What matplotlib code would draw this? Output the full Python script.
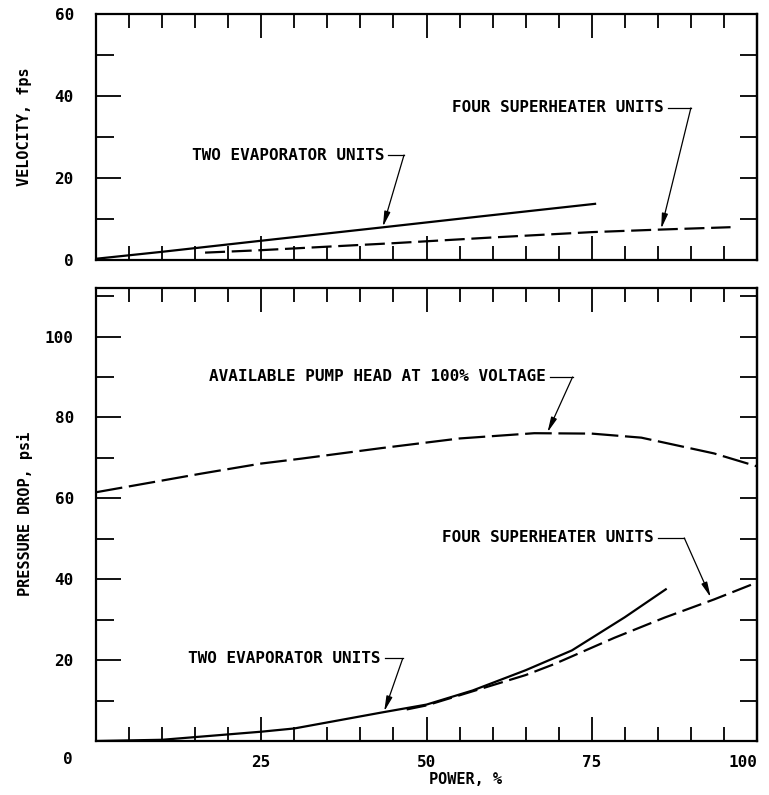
import numpy as np
import matplotlib
matplotlib.use("Agg")
from matplotlib import pyplot as plt
from matplotlib.ticker import MultipleLocator

# Data (power in %)
vel_evap_x = [0, 10, 25, 43, 58, 75.5]
vel_evap_y = [0.3, 2.0, 4.7, 7.9, 10.6, 13.7]
vel_super_x = [16.5, 25, 45, 60, 75, 85, 96]
vel_super_y = [1.8, 2.4, 4.1, 5.5, 6.8, 7.4, 8.0]

pump_x = [0, 15.9, 25, 31, 43.1, 55, 66.3, 75, 82.5, 93.5, 100]
pump_y = [61.5, 66.1, 68.6, 69.8, 72.4, 74.8, 76.1, 76.0, 75.0, 71.1, 67.9]
dp_evap_x = [0, 10, 25, 30, 43.4, 50, 57, 65, 72, 80, 86.2]
dp_evap_y = [0, 0.3, 2.3, 3.1, 7.1, 9.0, 12.5, 17.5, 22.4, 30.6, 37.5]
dp_super_x = [47, 50, 58, 65, 69.3, 78.4, 86, 93.5, 100]
dp_super_y = [7.8, 8.8, 12.8, 16.3, 19.0, 25.5, 30.5, 35.0, 39.2]

xticks = [25, 50, 75, 100]

plt.rcParams["font.family"] = "DejaVu Sans Mono"
plt.rcParams["font.weight"] = "bold"

fig = plt.figure(figsize=(7.69, 7.95), dpi=100)
ax1 = fig.add_axes([96 / 769, 1 - 260 / 795, 661 / 769, 246 / 795])
ax2 = fig.add_axes([96 / 769, 1 - 741 / 795, 661 / 769, 453 / 795])


def style_axes(ax, ymax, ymajor):
    ax.set_xlim(0, 100)
    ax.set_ylim(0, ymax)
    for s in ax.spines.values():
        s.set_linewidth(1.6)
    ax.xaxis.set_major_locator(MultipleLocator(25))
    ax.xaxis.set_minor_locator(MultipleLocator(5))
    ax.yaxis.set_major_locator(MultipleLocator(ymajor))
    ax.yaxis.set_minor_locator(MultipleLocator(10))
    ax.tick_params(which="both", direction="in", top=True, bottom=True,
                   left=True, right=False, width=1.3, colors="black",
                   labelsize=11.5)
    ax.tick_params(which="major", length=17)
    ax.tick_params(which="minor", length=10)
    ax.tick_params(axis="y", which="major", length=18)
    ax.tick_params(axis="y", which="minor", length=13)
    ax.tick_params(axis="y", pad=16)
    # right side ticks, all the same length
    sec = ax.secondary_yaxis("right")
    sec.yaxis.set_major_locator(MultipleLocator(10))
    sec.tick_params(direction="in", length=12, width=1.3, labelright=False)
    sec.spines["right"].set_linewidth(1.6)


style_axes(ax1, 60, 20)
style_axes(ax2, 112, 20)
ax1.tick_params(labelbottom=False)
ax2.set_xticks(xticks)
ax2.set_xticklabels([str(t) for t in xticks])
ax2.get_xticklabels()[-1].set_horizontalalignment("right")
ax2.tick_params(axis="x", pad=10)
ax2.set_yticks([20, 40, 60, 80, 100])
ax2.text(-0.042, -0.04, "0", transform=ax2.transAxes, ha="center", va="center",
         fontsize=11.5, fontweight="bold")

lw = 1.6
ax1.plot(vel_evap_x, vel_evap_y, color="black", lw=lw)
ax1.plot(vel_super_x, vel_super_y, color="black", lw=lw, dashes=(9, 3))
ax2.plot(pump_x, pump_y, color="black", lw=lw, dashes=(12, 3))
ax2.plot(dp_evap_x, dp_evap_y, color="black", lw=lw)
ax2.plot(dp_super_x, dp_super_y, color="black", lw=lw, dashes=(9, 3))


def label(ax, text, tx, ty, cx, tip):
    ax.text(tx, ty, text, ha="right", va="center", fontsize=11.5,
            fontweight="bold")
    ax.plot([tx + 0.6, cx], [ty, ty], color="black", lw=0.9)
    ax.annotate("", xy=tip, xytext=(cx, ty),
                arrowprops=dict(arrowstyle="-|>,head_length=0.9,head_width=0.18",
                                color="black", lw=0.9, shrinkA=0, shrinkB=0))


label(ax1, "TWO EVAPORATOR UNITS", 43.6, 25.6, 46.6, (43.4, 8.1))
label(ax1, "FOUR SUPERHEATER UNITS", 85.9, 37.1, 90.0, (85.5, 7.6))
label(ax2, "AVAILABLE PUMP HEAD AT 100% VOLTAGE", 68.1, 90.0, 72.1, (68.3, 76.3))
label(ax2, "FOUR SUPERHEATER UNITS", 84.4, 50.2, 89.0, (93.0, 35.5))
label(ax2, "TWO EVAPORATOR UNITS", 43.1, 20.4, 46.4, (43.6, 7.3))

fig.text(25 / 769, 1 - 127 / 795, "VELOCITY, fps", rotation=90,
         ha="center", va="center", fontsize=11, fontweight="bold")
fig.text(25 / 769, 1 - 514 / 795, "PRESSURE DROP, psi", rotation=90,
         ha="center", va="center", fontsize=11, fontweight="bold")
fig.text(465 / 769, 1 - 780 / 795, "POWER, %", ha="center", va="center",
         fontsize=11, fontweight="bold")

plt.savefig("out.png", dpi=100)
